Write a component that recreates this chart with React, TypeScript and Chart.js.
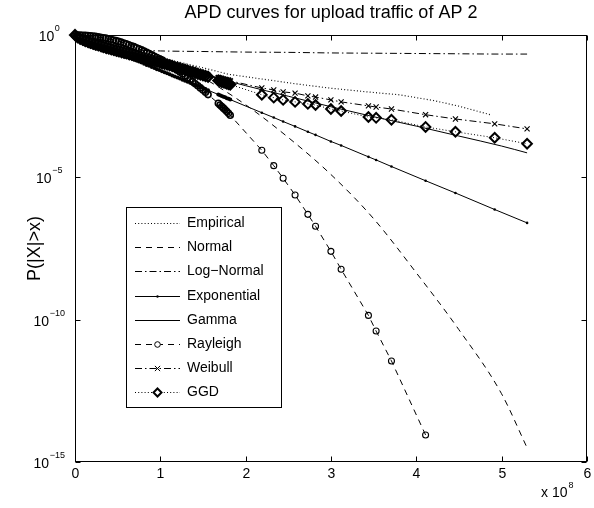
import React, { useEffect, useRef } from 'react';
import { Chart, registerables } from 'chart.js';
Chart.register(...registerables);

// ---------- data (x in units of 1e8, values stored as log10 of probability) ----------
const xTicks = [0, 1, 2, 3, 4, 5, 6];
const yTickExps = [0, -5, -10, -15];

// sample points (sorted traffic values) where the markers are drawn
const xSample = [
  0, 0.03, 0.06, 0.09, 0.12, 0.15, 0.18, 0.21, 0.24, 0.27,
  0.3, 0.33, 0.36, 0.39, 0.42, 0.45, 0.48, 0.51, 0.54, 0.57,
  0.6, 0.63, 0.66, 0.69, 0.72, 0.75, 0.78, 0.81, 0.84, 0.87,
  0.9, 0.93, 0.96, 0.99, 1.02, 1.05, 1.08, 1.11, 1.14, 1.17,
  1.2, 1.23, 1.26, 1.29, 1.32, 1.35, 1.38, 1.41, 1.44, 1.47,
  1.5, 1.53, 1.56,
  1.68, 1.7, 1.72, 1.74, 1.76, 1.78, 1.8, 1.82,
  2.19, 2.33, 2.44, 2.58, 2.73, 2.82, 3.0, 3.12, 3.44, 3.53,
  3.71, 4.11, 4.46, 4.92, 5.3,
];

const expoLog = [
  0, -0.04, -0.07, -0.11, -0.15, -0.19, -0.22, -0.26, -0.3, -0.34,
  -0.37, -0.41, -0.45, -0.49, -0.52, -0.56, -0.6, -0.63, -0.67, -0.71,
  -0.75, -0.78, -0.82, -0.86, -0.9, -0.93, -0.97, -1.01, -1.05, -1.08,
  -1.12, -1.16, -1.2, -1.23, -1.27, -1.31, -1.34, -1.38, -1.42, -1.46,
  -1.49, -1.53, -1.57, -1.61, -1.64, -1.68, -1.72, -1.76, -1.79, -1.83,
  -1.87, -1.9, -1.94,
  -2.09, -2.12, -2.14, -2.17, -2.19, -2.22, -2.24, -2.27,
  -2.73, -2.9, -3.04, -3.21, -3.4, -3.51, -3.74, -3.88, -4.28, -4.39,
  -4.62, -5.12, -5.55, -6.13, -6.6,
];

const rayleighLog = [
  0, -0.001, -0.003, -0.007, -0.012, -0.019, -0.028, -0.038, -0.05, -0.063,
  -0.077, -0.094, -0.111, -0.131, -0.152, -0.174, -0.198, -0.224, -0.251, -0.279,
  -0.31, -0.341, -0.375, -0.409, -0.446, -0.484, -0.523, -0.564, -0.607, -0.651,
  -0.697, -0.744, -0.793, -0.843, -0.895, -0.948, -1.003, -1.06, -1.118, -1.177,
  -1.238, -1.301, -1.365, -1.431, -1.498, -1.567, -1.638, -1.71, -1.783, -1.858,
  -1.935, -2.013, -2.093,
  -2.4, -2.46, -2.51, -2.57, -2.63, -2.69, -2.75, -2.82,
  -4.05, -4.59, -5.03, -5.62, -6.3, -6.72, -7.6, -8.23, -9.85, -10.4,
  -11.45, -14.05,
];

const weibullLog = [
  0, -0.12, -0.18, -0.23, -0.28, -0.32, -0.36, -0.39, -0.42, -0.45,
  -0.48, -0.51, -0.54, -0.57, -0.59, -0.62, -0.64, -0.67, -0.69, -0.72,
  -0.74, -0.76, -0.79, -0.81, -0.83, -0.86, -0.88, -0.9, -0.92, -0.94,
  -0.97, -0.99, -1.01, -1.03, -1.05, -1.07, -1.09, -1.11, -1.13, -1.16,
  -1.18, -1.2, -1.22, -1.24, -1.26, -1.28, -1.3, -1.32, -1.34, -1.36,
  -1.38, -1.4, -1.42,
  -1.5, -1.52, -1.53, -1.55, -1.56, -1.58, -1.59, -1.61,
  -1.86, -1.93, -2.0, -2.04, -2.14, -2.18, -2.28, -2.35, -2.49, -2.53,
  -2.6, -2.8, -2.95, -3.12, -3.3,
];

const ggdLog = [
  0, -0.08, -0.13, -0.17, -0.21, -0.24, -0.27, -0.3, -0.33, -0.35,
  -0.38, -0.41, -0.43, -0.46, -0.48, -0.51, -0.53, -0.56, -0.58, -0.61,
  -0.63, -0.66, -0.68, -0.71, -0.73, -0.76, -0.78, -0.81, -0.83, -0.86,
  -0.88, -0.91, -0.94, -0.96, -0.99, -1.01, -1.04, -1.06, -1.09, -1.12,
  -1.14, -1.17, -1.2, -1.22, -1.25, -1.28, -1.3, -1.33, -1.36, -1.39,
  -1.41, -1.44, -1.47,
  -1.6, -1.62, -1.64, -1.66, -1.68, -1.7, -1.72, -1.74,
  -2.1, -2.2, -2.28, -2.35, -2.42, -2.46, -2.6, -2.67, -2.88, -2.91,
  -2.98, -3.23, -3.4, -3.61, -3.82,
];

const empX = [0, 0.2, 0.5, 1.0, 1.5, 1.8, 2.2, 2.6, 3.0, 3.5, 3.8, 4.2, 4.5, 4.87];
const empLog = [0, -0.2, -0.45, -0.8, -1.15, -1.38, -1.55, -1.72, -1.87, -2.02, -2.1, -2.3, -2.5, -2.8];

const normX = [0, 0.5, 1, 1.5, 2, 2.5, 3, 3.5, 4, 4.5, 5, 5.3];
const normLog = [0, -0.2, -0.72, -1.5, -2.45, -3.6, -4.9, -6.45, -8.35, -10.35, -12.6, -14.5];

const lognX = [0, 0.05, 0.1, 0.2, 0.4, 0.7, 1.0, 1.5, 2.0, 2.5, 3.0, 3.5, 4.0, 4.5, 5.0, 5.3];
const lognLog = [0, -0.15, -0.28, -0.4, -0.48, -0.53, -0.56, -0.58, -0.6, -0.61, -0.63, -0.64, -0.65, -0.66, -0.67, -0.67];

const gammaX = [0, 0.25, 0.5, 0.75, 1.0, 1.5, 2.0, 2.5, 3.0, 3.5, 4.0, 4.5, 5.0, 5.3];
const gammaLog = [0, -0.3, -0.52, -0.74, -0.97, -1.38, -1.78, -2.15, -2.52, -2.87, -3.2, -3.55, -3.9, -4.14];

const legendLabels = ['Empirical', 'Normal', 'Log\u2212Normal', 'Exponential', 'Gamma', 'Rayleigh', 'Weibull', 'GGD'];

// ---------- styling ----------
const FONT = '"Liberation Sans", Arial, Helvetica, sans-serif';
const DOT = [1, 2.2];
const DASH = [6, 5];
const DASHDOT = [7, 3, 1.5, 3];
const DENSE_LIMIT = 1.9; // markers overlap heavily below this x and render as a solid mass

type Marker = 'none' | 'dot' | 'circle' | 'x' | 'diamond';
const legendStyles: { dash: number[]; marker: Marker }[] = [
  { dash: DOT, marker: 'none' },
  { dash: DASH, marker: 'none' },
  { dash: DASHDOT, marker: 'none' },
  { dash: [], marker: 'dot' },
  { dash: [], marker: 'none' },
  { dash: DASH, marker: 'circle' },
  { dash: DASHDOT, marker: 'x' },
  { dash: DOT, marker: 'diamond' },
];

const toPts = (xs: number[], logs: number[]) => logs.map((e, i) => ({ x: xs[i], y: Math.pow(10, e) }));
const denseWidth = (thick: number, thin: number) => (c: any) => (c.raw && c.raw.x < DENSE_LIMIT ? thick : thin);

function drawMarker(ctx: CanvasRenderingContext2D, m: Marker, x: number, y: number) {
  ctx.save();
  ctx.setLineDash([]);
  ctx.strokeStyle = '#000';
  ctx.fillStyle = '#000';
  if (m === 'dot') {
    ctx.beginPath();
    ctx.arc(x, y, 1.2, 0, Math.PI * 2);
    ctx.fill();
  } else if (m === 'circle') {
    ctx.lineWidth = 1;
    ctx.beginPath();
    ctx.arc(x, y, 2.8, 0, Math.PI * 2);
    ctx.fillStyle = '#fff';
    ctx.fill();
    ctx.stroke();
  } else if (m === 'x') {
    ctx.lineWidth = 1;
    const s = 2.6;
    ctx.beginPath();
    ctx.moveTo(x - s, y - s);
    ctx.lineTo(x + s, y + s);
    ctx.moveTo(x + s, y - s);
    ctx.lineTo(x - s, y + s);
    ctx.stroke();
  } else if (m === 'diamond') {
    ctx.lineWidth = 2;
    const s = 4;
    ctx.beginPath();
    ctx.moveTo(x, y - s);
    ctx.lineTo(x + s, y);
    ctx.lineTo(x, y + s);
    ctx.lineTo(x - s, y);
    ctx.closePath();
    ctx.fillStyle = '#fff';
    ctx.fill();
    ctx.stroke();
  }
  ctx.restore();
}

const decor = {
  id: 'decor',
  afterDraw(chart: any) {
    const ctx: CanvasRenderingContext2D = chart.ctx;
    const ca = chart.chartArea;
    const xs = chart.scales.x;
    const ys = chart.scales.y;
    ctx.save();
    ctx.setLineDash([]);
    ctx.strokeStyle = '#000';
    ctx.fillStyle = '#000';
    ctx.lineWidth = 1;
    const L = Math.round(ca.left) + 0.5;
    const R = Math.round(ca.right) - 0.5;
    const T = Math.round(ca.top) + 0.5;
    const B = Math.round(ca.bottom) - 0.5;
    ctx.strokeRect(L, T, R - L, B - T);

    // x ticks & labels
    ctx.font = `14px ${FONT}`;
    ctx.textAlign = 'center';
    ctx.textBaseline = 'middle';
    xTicks.forEach((v) => {
      const px = Math.round(xs.getPixelForValue(v)) + 0.5;
      ctx.beginPath();
      ctx.moveTo(px, B);
      ctx.lineTo(px, B - 5);
      ctx.moveTo(px, T);
      ctx.lineTo(px, T + 5);
      ctx.stroke();
      ctx.fillText(String(v), px, B + 13);
    });
    // x multiplier
    ctx.textAlign = 'left';
    ctx.font = `14px ${FONT}`;
    const base = 'x 10';
    ctx.fillText(base, 541, 493);
    const bw = ctx.measureText(base).width;
    ctx.font = `9px ${FONT}`;
    ctx.fillText('8', 541 + bw + 1, 486);

    // y ticks & labels
    yTickExps.forEach((e) => {
      const py = Math.round(ys.getPixelForValue(Math.pow(10, e))) + 0.5;
      ctx.beginPath();
      ctx.moveTo(L, py);
      ctx.lineTo(L + 5, py);
      ctx.moveTo(R, py);
      ctx.lineTo(R - 5, py);
      ctx.stroke();
      const sup = e === 0 ? '0' : '\u2212' + String(-e);
      ctx.font = `14px ${FONT}`;
      const w1 = ctx.measureText('10').width;
      ctx.font = `9px ${FONT}`;
      const w2 = ctx.measureText(sup).width;
      const start = 49 - (w1 + w2) / 2;
      ctx.textAlign = 'left';
      ctx.font = `14px ${FONT}`;
      ctx.fillText('10', start, py + 2);
      ctx.font = `9px ${FONT}`;
      ctx.fillText(sup, start + w1 + 0.5, py - 7);
    });

    // y label
    ctx.save();
    ctx.translate(35, (T + B) / 2);
    ctx.rotate(-Math.PI / 2);
    ctx.font = `18px ${FONT}`;
    ctx.textAlign = 'center';
    ctx.textBaseline = 'middle';
    ctx.fillText('P(|X|>x)', 0, 0);
    ctx.restore();

    // title
    ctx.font = `18px ${FONT}`;
    ctx.textAlign = 'center';
    ctx.textBaseline = 'middle';
    ctx.fillText('APD curves for upload traffic of AP 2', (L + R) / 2, 13);

    // legend
    const lx = 126.5, ly = 207.5, lw = 155, lh = 200;
    ctx.fillStyle = '#fff';
    ctx.fillRect(lx, ly, lw, lh);
    ctx.strokeStyle = '#000';
    ctx.lineWidth = 1;
    ctx.strokeRect(lx, ly, lw, lh);
    legendLabels.forEach((label, i) => {
      const y = Math.round(223 + i * 24.2) + 0.5;
      const st = legendStyles[i];
      ctx.save();
      ctx.setLineDash(st.dash);
      ctx.lineWidth = 1;
      ctx.strokeStyle = '#000';
      ctx.beginPath();
      ctx.moveTo(135, y);
      ctx.lineTo(180, y);
      ctx.stroke();
      ctx.restore();
      if (st.marker !== 'none') drawMarker(ctx, st.marker, 157.5, y);
      ctx.fillStyle = '#000';
      ctx.font = `14px ${FONT}`;
      ctx.textAlign = 'left';
      ctx.textBaseline = 'middle';
      ctx.fillText(label, 187, y);
    });
    ctx.restore();
  },
};

export default function App() {
  const ref = useRef<HTMLCanvasElement | null>(null);
  useEffect(() => {
    if (!ref.current) return;
    const base = { borderColor: '#000', borderWidth: 1, showLine: true, fill: false };
    const chart = new Chart(ref.current, {
      type: 'scatter',
      data: {
        datasets: [
          { ...base, label: 'Empirical', data: toPts(empX, empLog), borderDash: DOT, borderWidth: 1.2, pointRadius: 0, borderColor: '#111' },
          { ...base, label: 'Normal', data: toPts(normX, normLog), borderDash: DASH, pointRadius: 0, cubicInterpolationMode: 'monotone' },
          { ...base, label: 'Log-Normal', data: toPts(lognX, lognLog), borderDash: DASHDOT, pointRadius: 0, cubicInterpolationMode: 'monotone' },
          { ...base, label: 'Exponential', data: toPts(xSample, expoLog), pointStyle: 'circle', pointRadius: denseWidth(2, 1.3), pointBackgroundColor: '#000', pointBorderWidth: 0, clip: false },
          { ...base, label: 'Gamma', data: toPts(gammaX, gammaLog), pointRadius: 0, cubicInterpolationMode: 'monotone' },
          { ...base, label: 'Rayleigh', data: toPts(xSample, rayleighLog), borderDash: DASH, pointStyle: 'circle', pointRadius: 3, pointBorderWidth: denseWidth(1.6, 1.1), pointBorderColor: '#000', pointBackgroundColor: 'rgba(0,0,0,0)', clip: false },
          { ...base, label: 'Weibull', data: toPts(xSample, weibullLog), borderDash: DASHDOT, pointStyle: 'crossRot', pointRadius: 3.6, pointBorderWidth: denseWidth(1.8, 1.1), pointBorderColor: '#000', clip: false },
          { ...base, label: 'GGD', data: toPts(xSample, ggdLog), borderDash: DOT, pointStyle: 'rectRot', pointRadius: 4.8, pointBorderWidth: denseWidth(2.4, 2), pointBorderColor: '#000', pointBackgroundColor: 'rgba(0,0,0,0)', clip: false },
        ] as any,
      },
      options: {
        animation: false,
        responsive: false,
        events: [],
        layout: { padding: { left: 75, right: 4, top: 35, bottom: 46 } },
        plugins: { legend: { display: false }, tooltip: { enabled: false }, title: { display: false } },
        scales: {
          x: { type: 'linear', min: 0, max: 6, display: false },
          y: { type: 'logarithmic', min: 1e-15, max: 1, display: false },
        },
      },
      plugins: [decor],
    });
    return () => chart.destroy();
  }, []);
  return (
    <div style={{ position: 'absolute', left: 0, top: 0, width: 594, height: 508, background: '#fff' }}>
      <canvas ref={ref} width={594} height={508} style={{ display: 'block' }} />
    </div>
  );
}
